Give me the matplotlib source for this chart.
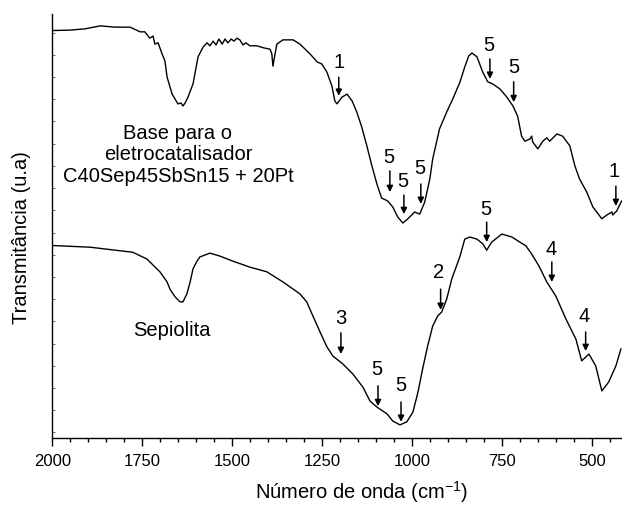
import matplotlib
matplotlib.use("Agg")
import matplotlib.pyplot as plt
import numpy as np

plt.rcParams['font.family'] = ['Liberation Sans', 'DejaVu Sans']
plt.rcParams['mathtext.fontset'] = 'custom'
plt.rcParams['mathtext.rm'] = 'Liberation Sans'
plt.rcParams['mathtext.it'] = 'Liberation Sans'

# ---- data: wavenumber (cm-1) and transmittance (arbitrary units) ----
wn_base = [2000, 1951, 1909, 1867, 1826, 1784, 1756, 1743, 1729, 1720, 1715, 1706, 1695,
           1687, 1681, 1667, 1651, 1642, 1637, 1631, 1623, 1609, 1595, 1581, 1570, 1562,
           1553, 1545, 1537, 1528, 1520, 1512, 1503, 1495, 1487, 1479, 1470, 1462, 1451,
           1432, 1412, 1395, 1390, 1387, 1381, 1376, 1359, 1331, 1312, 1284, 1264, 1251,
           1237, 1223, 1215, 1209, 1195, 1181, 1167, 1154, 1140, 1126, 1112, 1098, 1085,
           1068, 1054, 1040, 1026, 1012, 993, 979, 965, 951, 943, 924, 904, 887, 867, 854,
           843, 834, 820, 804, 790, 776, 756, 737, 720, 707, 696, 687, 673, 668, 665, 651,
           637, 626, 618, 598, 582, 562, 548, 535, 515, 498, 473, 459, 445, 443, 432, 418]
t_base = [96.1, 96.2, 96.5, 97.2, 96.9, 96.9, 95.8, 95.8, 94.3, 94.8, 92.9, 93.2, 90.6,
          88.9, 85.1, 81.1, 78.8, 79.0, 78.3, 79.0, 80.4, 83.5, 89.9, 92.2, 93.2, 92.5,
          93.6, 92.7, 94.1, 92.9, 94.1, 93.2, 94.1, 93.6, 94.3, 93.9, 92.7, 93.2, 92.5,
          92.5, 92.0, 91.7, 90.6, 87.7, 90.6, 92.9, 93.9, 93.9, 92.9, 90.6, 88.7, 88.2,
          86.3, 83.0, 79.5, 78.8, 80.4, 81.1, 79.5, 76.9, 73.3, 68.9, 64.2, 59.9, 56.6,
          55.9, 54.5, 52.1, 50.7, 51.7, 53.3, 52.8, 55.7, 61.1, 65.8, 72.9, 76.9, 80.0,
          84.0, 87.5, 90.1, 90.8, 89.9, 86.3, 84.0, 83.5, 82.3, 80.4, 78.3, 75.9, 71.2,
          70.0, 70.5, 71.2, 69.8, 68.2, 70.0, 70.8, 70.0, 71.7, 71.2, 68.9, 64.2, 61.1,
          58.0, 54.5, 51.7, 52.6, 53.3, 52.6, 53.5, 55.9]

wn_sep = [2000, 1895, 1776, 1737, 1701, 1681, 1673, 1659, 1645, 1637, 1626, 1617, 1609,
          1598, 1590, 1562, 1534, 1498, 1451, 1404, 1359, 1312, 1293, 1276, 1256, 1237,
          1220, 1193, 1165, 1137, 1117, 1098, 1070, 1054, 1034, 1015, 998, 984, 971, 957,
          943, 929, 918, 904, 890, 867, 854, 840, 820, 804, 793, 779, 751, 723, 684, 668,
          648, 626, 601, 573, 545, 529, 509, 490, 473, 454, 434, 420]
t_sep = [45.4, 45.0, 43.8, 42.2, 39.2, 36.8, 35.1, 33.3, 32.1, 32.1, 34.0, 36.8, 39.9,
         41.7, 42.7, 43.6, 42.9, 41.7, 40.3, 39.2, 36.8, 34.0, 32.1, 28.8, 25.0, 21.5,
         19.3, 17.5, 15.1, 12.0, 8.7, 7.3, 5.7, 4.0, 3.1, 3.8, 6.1, 10.8, 16.3, 21.7,
         26.4, 28.8, 29.7, 32.8, 37.5, 42.9, 46.9, 47.4, 46.9, 45.8, 44.3, 46.2, 48.1,
         47.4, 45.3, 43.4, 40.6, 36.8, 33.5, 28.1, 23.3, 18.2, 19.8, 17.0, 11.1, 13.2,
         17.0, 21.0]

# band assignment annotations: label, text position, arrow x, arrow start/end
ann_labels = ['1', '5', '5', '5', '5', '5', '1',
              '5', '4', '2', '3', '4', '5', '5']
ann_text_wn = [1204, 787, 718, 1065, 1026, 979, 440,
               796, 615, 926, 1198, 521, 1098, 1031]
ann_text_t = [88.7, 92.9, 87.5, 66.5, 60.8, 63.7, 63.0,
              54.2, 44.6, 39.2, 28.5, 28.8, 16.3, 12.7]
ann_arrow_wn = [1204, 784, 718, 1062, 1023, 976, 434,
                793, 612, 921, 1198, 518, 1095, 1031]
ann_arrow_from = [85.1, 89.4, 84.0, 63.0, 57.3, 59.9, 59.4,
                  50.9, 41.5, 35.1, 24.8, 25.0, 12.3, 8.5]
ann_arrow_to = [80.7, 84.7, 79.2, 58.0, 52.8, 55.2, 54.7,
                46.2, 36.8, 30.2, 19.8, 20.5, 7.5, 3.8]

x_ticks = [2000, 1750, 1500, 1250, 1000, 750, 500]

fig = plt.figure(figsize=(6.22, 5.06), dpi=100)
ax = fig.add_axes([52.3 / 622, 67 / 506, (622 - 52.3) / 622, 424 / 506])

ax.plot(wn_base, t_base, color='black', lw=1.0)
ax.plot(wn_sep, t_sep, color='black', lw=1.0)

for lab, tx, ty, axx, a0, a1 in zip(ann_labels, ann_text_wn, ann_text_t,
                                     ann_arrow_wn, ann_arrow_from, ann_arrow_to):
    ax.text(tx, ty, lab, ha='center', va='center', fontsize=14.5)
    ax.annotate('', xy=(axx, a1), xytext=(axx, a0),
                arrowprops=dict(arrowstyle='-|>', color='black', lw=1.1,
                                mutation_scale=9, shrinkA=0, shrinkB=0))

ax.text(1651, 67.0, 'Base para o\neletrocatalisador\nC40Sep45SbSn15 + 20Pt',
        ha='center', va='center', fontsize=14.5, multialignment='center',
        linespacing=1.15)
ax.text(1667, 25.7, 'Sepiolita', ha='center', va='center', fontsize=14.5)

ax.set_xlim(2000, 417)
ax.set_ylim(0, 100)
ax.set_xticks(x_ticks)
ax.set_xticklabels([str(v) for v in x_ticks], fontsize=12)
ax.set_xticks(np.arange(450, 2001, 50), minor=True)
ax.tick_params(axis='x', which='major', direction='out', length=5.5, width=1.0, pad=5)
ax.tick_params(axis='x', which='minor', direction='out', length=3, width=1.0)
ax.set_yticks(np.arange(1.3, 100, 5.24))
ax.set_yticklabels([])
ax.tick_params(axis='y', which='major', direction='in', length=2.5, width=0.6,
               colors='#555555')
for s in ['top', 'right']:
    ax.spines[s].set_visible(False)
for s in ['left', 'bottom']:
    ax.spines[s].set_linewidth(1.0)

ax.set_xlabel(r'Número de onda (cm$^{-1}$)', fontsize=14.5, va='center')
ax.xaxis.set_label_coords((362 - 52.3) / 569.7, (439 - 492) / 424)
ax.set_ylabel('Transmitância (u.a)', fontsize=14.5, va='center')
ax.yaxis.set_label_coords((22 - 52.3) / 569.7, (439 - 238) / 424)

fig.savefig('out.png', dpi=100)
